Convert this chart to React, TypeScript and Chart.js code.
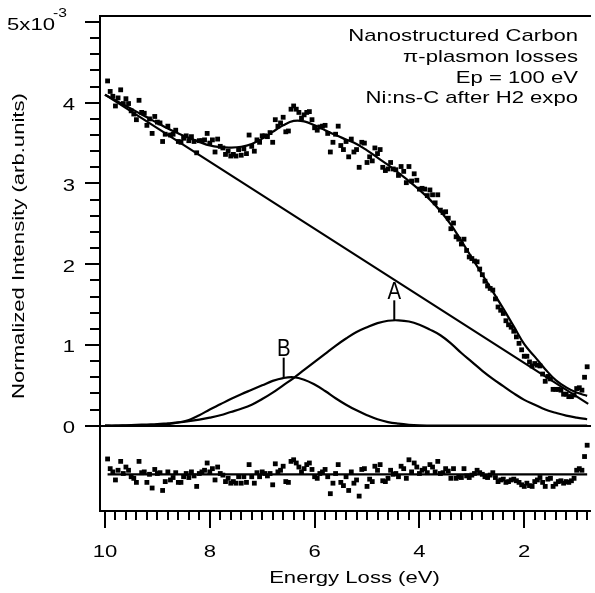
import React, { useEffect, useRef } from "react";
import { Chart, registerables } from "chart.js";

Chart.register(...registerables);

// ---------- data (intensities in units of 1e-3) ----------
const DATA_X = [
  9.95, 9.9, 9.85, 9.8, 9.75, 9.7, 9.65, 9.6, 9.55, 9.5, 9.45, 9.4, 9.35, 9.3, 9.25, 9.2, 9.15, 9.1, 9.05, 9.0,
  8.95, 8.9, 8.85, 8.8, 8.75, 8.7, 8.65, 8.6, 8.55, 8.5, 8.45, 8.4, 8.35, 8.3, 8.25, 8.2, 8.15, 8.1, 8.05, 8.0,
  7.95, 7.9, 7.85, 7.8, 7.75, 7.7, 7.65, 7.6, 7.55, 7.5, 7.45, 7.4, 7.35, 7.3, 7.25, 7.2, 7.15, 7.1, 7.05, 7.0,
  6.95, 6.9, 6.85, 6.8, 6.75, 6.7, 6.65, 6.6, 6.55, 6.5, 6.45, 6.4, 6.35, 6.3, 6.25, 6.2, 6.15, 6.1, 6.05, 6.0,
  5.95, 5.9, 5.85, 5.8, 5.75, 5.7, 5.65, 5.6,
  5.55, 5.5, 5.45, 5.4, 5.35, 5.3, 5.25, 5.2, 5.15, 5.1, 5.05, 5.0, 4.95, 4.9, 4.85, 4.8, 4.75, 4.7, 4.65, 4.6,
  4.55, 4.5, 4.45, 4.4, 4.35, 4.3, 4.25, 4.2, 4.15, 4.1, 4.05, 4.0, 3.95, 3.9, 3.85, 3.8, 3.75, 3.7, 3.65, 3.6,
  3.55, 3.5, 3.45, 3.4, 3.35, 3.3, 3.25, 3.2, 3.15, 3.1, 3.05, 3.0, 2.95, 2.9, 2.85, 2.8, 2.75, 2.7, 2.65, 2.6,
  2.55, 2.5, 2.45, 2.4, 2.35, 2.3, 2.25, 2.2, 2.15, 2.1, 2.05, 2.0, 1.95, 1.9, 1.85, 1.8, 1.75, 1.7, 1.65, 1.6,
  1.55, 1.5, 1.45, 1.4, 1.35, 1.3, 1.25, 1.2, 1.15, 1.1, 1.05, 1.0, 0.95, 0.9, 0.85, 0.8,
];

const DATA_Y = [
  4.27, 4.14, 4.08, 3.96, 4.06, 4.16, 3.99, 4.05, 3.99, 3.9,
  3.86, 3.79, 4.03, 3.88, 3.87, 3.72, 3.8, 3.62, 3.83, 3.76,
  3.75, 3.52, 3.61, 3.71, 3.6, 3.61, 3.66, 3.52, 3.51, 3.56,
  3.59, 3.53, 3.58, 3.52, 3.38, 3.53, 3.53, 3.54, 3.62, 3.5,
  3.54, 3.39, 3.55, 3.46, 3.44, 3.36, 3.4, 3.34, 3.36, 3.34,
  3.42, 3.35, 3.43, 3.37, 3.6, 3.46, 3.4, 3.54, 3.51, 3.59,
  3.59, 3.58, 3.63, 3.51, 3.79, 3.71, 3.75, 3.82, 3.64, 3.65,
  3.92, 3.96, 3.92, 3.88, 3.81, 3.85, 3.88, 3.89, 3.79, 3.69,
  3.66, 3.7, 3.71, 3.72, 3.62, 3.39, 3.51, 3.61,
  3.71, 3.47, 3.42, 3.52, 3.33, 3.55, 3.39, 3.42, 3.2, 3.51,
  3.5, 3.26, 3.33, 3.28, 3.44, 3.37, 3.42, 3.2, 3.16, 3.18,
  3.26, 3.18, 3.17, 3.1, 3.21, 3.15, 3.01, 3.21, 3.03, 3.12,
  3.04, 2.93, 2.94, 2.93, 2.85, 2.92, 2.86, 2.76, 2.86, 2.67,
  2.64, 2.65, 2.57, 2.44, 2.51, 2.34, 2.31, 2.25, 2.31, 2.17,
  2.09, 2.07, 2.04, 2.03, 1.94, 1.87, 1.79, 1.73, 1.7, 1.68,
  1.57, 1.47, 1.43, 1.39, 1.3, 1.25, 1.22, 1.17, 1.1, 1.02,
  0.94, 0.86, 0.86, 0.79, 0.74, 0.77, 0.75, 0.74, 0.64, 0.55,
  0.61, 0.58, 0.45, 0.45, 0.45, 0.44, 0.39, 0.39, 0.36, 0.36,
  0.38, 0.46, 0.47, 0.44, 0.6, 0.73,
];

const RESID_Y = [
  0.19, 0.07, 0.03, -0.07, 0.05, 0.16, 0.01, 0.09, 0.05, -0.03,
  -0.05, -0.1, 0.16, 0.02, 0.03, -0.1, 0.0, -0.17, 0.06, 0.01,
  0.02, -0.2, -0.09, 0.03, -0.07, -0.04, 0.02, -0.1, -0.1, -0.03,
  0.01, -0.04, 0.03, -0.02, -0.15, 0.01, 0.03, 0.05, 0.14, 0.03,
  0.07, -0.07, 0.09, 0.01, -0.01, -0.09, -0.05, -0.11, -0.09, -0.11,
  -0.03, -0.11, -0.03, -0.1, 0.12, -0.03, -0.11, 0.02, -0.03, 0.03,
  0.01, -0.02, 0.01, -0.13, 0.13, 0.03, 0.05, 0.1, -0.09, -0.1,
  0.16, 0.18, 0.14, 0.09, 0.03, 0.07, 0.12, 0.14, 0.06, -0.03,
  -0.05, 0.01, 0.03, 0.06, -0.03, -0.24, -0.11, 0.01,
  0.12, -0.1, -0.14, -0.03, -0.2, 0.03, -0.11, -0.07, -0.27, 0.06,
  0.07, -0.15, -0.06, -0.09, 0.1, 0.05, 0.12, -0.08, -0.09, -0.05,
  0.05, 0.0, 0.01, -0.03, 0.1, 0.07, -0.05, 0.18, 0.03, 0.14,
  0.09, 0.01, 0.05, 0.07, 0.02, 0.12, 0.09, 0.03, 0.16, 0.01,
  0.02, 0.07, 0.04, -0.05, 0.07, -0.05, -0.03, -0.04, 0.07, -0.02,
  -0.04, -0.01, 0.01, 0.05, 0.02, 0.0, -0.03, -0.04, -0.01, 0.02,
  -0.04, -0.09, -0.07, -0.06, -0.1, -0.09, -0.07, -0.06, -0.08, -0.1,
  -0.13, -0.15, -0.11, -0.14, -0.15, -0.09, -0.07, -0.04, -0.1, -0.15,
  -0.06, -0.05, -0.15, -0.12, -0.09, -0.08, -0.11, -0.09, -0.1, -0.08,
  -0.05, 0.05, 0.07, 0.05, 0.22, 0.36,
];

const CURVE_X = [
  10.0, 9.8, 9.6, 9.4, 9.2, 9.0, 8.8, 8.6, 8.4, 8.2, 8.0, 7.8, 7.6, 7.4, 7.2, 7.0,
  6.8, 6.6, 6.4, 6.2, 6.0, 5.8, 5.6, 5.4, 5.2, 5.0, 4.8, 4.6, 4.4, 4.2, 4.0, 3.8,
  3.6, 3.4, 3.2, 3.0, 2.8, 2.6, 2.4, 2.2, 2.0, 1.8, 1.6, 1.4, 1.2, 1.0, 0.8,
];

const FIT_Y = [
  4.1, 4.03, 3.96, 3.89, 3.82, 3.75, 3.68, 3.62, 3.565, 3.515, 3.47, 3.45, 3.445, 3.455, 3.49, 3.555,
  3.64, 3.72, 3.775, 3.77, 3.72, 3.66, 3.6, 3.545, 3.49, 3.41, 3.32, 3.23, 3.13, 3.03, 2.92, 2.8,
  2.66, 2.49, 2.29, 2.08, 1.87, 1.66, 1.45, 1.23, 1.01, 0.855, 0.7, 0.565, 0.475, 0.41, 0.37,
];

const PEAK_A_Y = [
  0.0, 0.0, 0.005, 0.01, 0.015, 0.02, 0.03, 0.04, 0.055, 0.075, 0.1, 0.13, 0.17, 0.21, 0.26, 0.33,
  0.41, 0.5, 0.59, 0.69, 0.79, 0.89, 0.99, 1.08, 1.16, 1.22, 1.27, 1.3, 1.305, 1.29, 1.25, 1.19,
  1.12, 1.02, 0.9, 0.79, 0.68, 0.58, 0.49, 0.4, 0.32, 0.26, 0.2, 0.16, 0.125, 0.1, 0.08,
];

const PEAK_B_Y = [
  0.0, 0.0, 0.0, 0.002, 0.005, 0.01, 0.02, 0.04, 0.07, 0.13, 0.2, 0.265, 0.33, 0.39, 0.445, 0.5,
  0.555, 0.59, 0.6, 0.57, 0.51, 0.43, 0.34, 0.26, 0.19, 0.13, 0.08, 0.045, 0.025, 0.012, 0.005, 0.002,
  0.0, 0.0, 0.0, 0.0, 0.0, 0.0, 0.0, 0.0, 0.0, 0.0, 0.0, 0.0, 0.0, 0.0, 0.0,
];

const BG_X = [10.0, 0.78];
const BG_Y = [4.1, 0.27];

const RESID_LINE_X = [9.95, 0.8];
const RESID_LINE_Y = [0, 0];

const X_TICK_VALUES = [10, 8, 6, 4, 2];
const X_TICK_LABELS = ["10", "8", "6", "4", "2"];
const Y_TICK_VALUES = [0, 1, 2, 3, 4, 5];
const Y_TICK_LABELS = ["0", "1", "2", "3", "4", "5x10"];
const Y_EXPONENT = "-3";

const NOTE_LINES = ["Nanostructured Carbon", "\u03c0-plasmon losses", "Ep = 100 eV", "Ni:ns-C after H2 expo"];
const TAG_LABELS = ["A", "B"];
const TAG_X = [4.48, 6.59];
const TAG_Y = [1.305, 0.595];

const X_TITLE = "Energy Loss (eV)";
const Y_TITLE = "Normalized Intensity (arb.units)";

// ---------- axis ranges ----------
const X_MIN = 0.7267;
const X_MAX = 10.0946;
const Y_MIN = -1.0565;
const Y_MAX = 5.0743;
const RES_MIN = -0.4545;
const RES_MAX = 5.676;

const FONT = '"Liberation Sans", Arial, Helvetica, sans-serif';

function pts(xs: number[], ys: number[]) {
  return xs.map((x, i) => ({ x, y: ys[i] }));
}

function drawText(
  ctx: CanvasRenderingContext2D,
  s: string,
  x: number,
  y: number,
  size: number,
  align: CanvasTextAlign,
  sx = 1.3,
  rot = 0
) {
  ctx.save();
  ctx.translate(x, y);
  if (rot) ctx.rotate(rot);
  ctx.scale(sx, 1);
  ctx.font = `${size}px ${FONT}`;
  ctx.textAlign = align;
  ctx.textBaseline = "alphabetic";
  ctx.fillStyle = "#000";
  ctx.fillText(s, 0, 0);
  ctx.restore();
}

const axesPlugin = {
  id: "igorAxes",
  afterDraw(chart: any) {
    const ctx: CanvasRenderingContext2D = chart.ctx;
    const a = chart.chartArea;
    const xs = chart.scales.x;
    const ys = chart.scales.y;
    ctx.save();
    ctx.strokeStyle = "#000";
    ctx.lineWidth = 2;
    ctx.lineCap = "butt";
    const line = (x1: number, y1: number, x2: number, y2: number) => {
      ctx.beginPath();
      ctx.moveTo(x1, y1);
      ctx.lineTo(x2, y2);
      ctx.stroke();
    };
    // frame
    line(a.left - 1, a.top, a.right, a.top);
    line(a.left, a.top - 1, a.left, a.bottom + 1);
    line(a.left - 1, a.bottom, a.right, a.bottom);
    // zero line
    const y0 = Math.round(ys.getPixelForValue(0));
    line(a.left - 15, y0, a.right, y0);
    // left ticks
    for (let i = 0; i <= 25; i++) {
      const v = i * 0.2;
      const py = Math.round(ys.getPixelForValue(v));
      const major = i % 5 === 0;
      line(a.left - (major ? 15 : 10), py, a.left, py);
    }
    // bottom ticks
    for (let i = 0; i <= 46; i++) {
      const v = 10 - i * 0.2;
      const px = Math.round(xs.getPixelForValue(v));
      const major = i % 10 === 0;
      line(px, a.bottom, px, a.bottom + (major ? 17 : 9));
    }
    // y tick labels
    Y_TICK_VALUES.forEach((v, i) => {
      const py = ys.getPixelForValue(v);
      if (i === Y_TICK_VALUES.length - 1) {
        drawText(ctx, Y_TICK_LABELS[i], 55, py + 8, 17, "right");
        drawText(ctx, Y_EXPONENT, 53, py - 5, 12.5, "left", 1.25);
      } else {
        drawText(ctx, Y_TICK_LABELS[i], 75, py + 7.3, 17, "right");
      }
    });
    // x tick labels
    X_TICK_VALUES.forEach((v, i) => {
      const px = xs.getPixelForValue(v);
      drawText(ctx, X_TICK_LABELS[i], px, 557, 17, "center");
    });
    // titles
    drawText(ctx, X_TITLE, 354.5, 583, 17, "center");
    drawText(ctx, Y_TITLE, 24, 246, 17, "center", 1.3, -Math.PI / 2);
    // notes
    const baselines = [41, 61.5, 82.5, 102.7];
    NOTE_LINES.forEach((s, i) => drawText(ctx, s, 578, baselines[i], 17, "right"));
    // peak tags
    TAG_LABELS.forEach((lab, i) => {
      const px = xs.getPixelForValue(TAG_X[i]);
      const py = ys.getPixelForValue(TAG_Y[i]);
      line(px, py, px, py - 20);
      drawText(ctx, lab, px, py - 21.5, 24, "center", 0.85);
    });
    ctx.restore();
  },
};

export default function App() {
  const ref = useRef<HTMLCanvasElement | null>(null);
  useEffect(() => {
    if (!ref.current) return;
    const lineDs = (data: any[], extra: any = {}) => ({
      data,
      showLine: true,
      borderColor: "#000",
      borderWidth: 2.2,
      pointRadius: 0,
      fill: false,
      ...extra,
    });
    const ptDs = (data: any[], extra: any = {}) => ({
      data,
      showLine: false,
      pointStyle: "rect",
      pointRadius: 3.4,
      pointBorderWidth: 0,
      borderWidth: 0,
      backgroundColor: "#000",
      borderColor: "#000",
      ...extra,
    });
    const chart = new Chart(ref.current, {
      type: "scatter",
      data: {
        datasets: [
          lineDs(pts(BG_X, BG_Y), { yAxisID: "y" }),
          lineDs(pts(CURVE_X, PEAK_A_Y), { yAxisID: "y", tension: 0.4 }),
          lineDs(pts(CURVE_X, PEAK_B_Y), { yAxisID: "y", tension: 0.4 }),
          lineDs(pts(CURVE_X, FIT_Y), { yAxisID: "y", tension: 0.4 }),
          ptDs(pts(DATA_X, DATA_Y), { yAxisID: "y" }),
          lineDs(pts(RESID_LINE_X, RESID_LINE_Y), { yAxisID: "yRes" }),
          ptDs(pts(DATA_X, RESID_Y), { yAxisID: "yRes" }),
        ] as any,
      },
      options: {
        animation: false,
        responsive: false,
        events: [],
        layout: { padding: { left: 100, top: 16, right: 0, bottom: 82 } },
        plugins: { legend: { display: false }, tooltip: { enabled: false } },
        scales: {
          x: { type: "linear", axis: "x", reverse: true, min: X_MIN, max: X_MAX, display: false },
          y: { type: "linear", axis: "y", min: Y_MIN, max: Y_MAX, display: false },
          yRes: { type: "linear", axis: "y", min: RES_MIN, max: RES_MAX, display: false },
        },
      } as any,
      plugins: [axesPlugin],
    });
    return () => chart.destroy();
  }, []);
  return (
    <div style={{ position: "fixed", left: 0, top: 0, width: 595, height: 593, background: "#fff" }}>
      <canvas ref={ref} width={595} height={593} style={{ display: "block" }} />
    </div>
  );
}
